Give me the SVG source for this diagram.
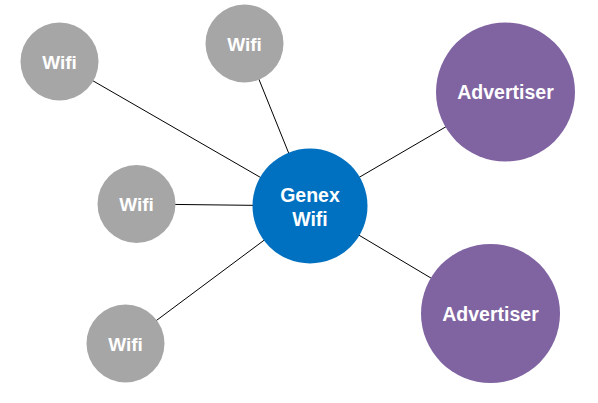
<svg xmlns="http://www.w3.org/2000/svg" width="598" height="403" viewBox="0 0 598 403">
<style>
.wifi{fill:#a6a6a6}
.adv{fill:#8064a2}
.hub{fill:#0070c0}
text{font-family:"Liberation Sans",Arial,sans-serif;font-weight:bold;fill:#fff;text-anchor:middle}
.c line{stroke:#000;stroke-width:1}
</style>
<rect width="598" height="403" fill="#fff"/>
<g class="c" id="connectors">
<line x1="59.5" y1="61.5" x2="310" y2="206"/>
<line x1="244.5" y1="43.5" x2="310" y2="206"/>
<line x1="136.5" y1="204" x2="310" y2="206"/>
<line x1="125.5" y1="343.5" x2="310" y2="206"/>
<line x1="505.5" y1="92" x2="310" y2="206"/>
<line x1="490.5" y1="313.5" x2="310" y2="206"/>
</g>
<g id="wifi1"><circle class="wifi" cx="59.5" cy="61.5" r="39"/><text x="59.5" y="68.5" font-size="19">Wifi</text></g>
<g id="wifi2"><circle class="wifi" cx="244.5" cy="43.5" r="39"/><text x="244.5" y="50.5" font-size="19">Wifi</text></g>
<g id="wifi3"><circle class="wifi" cx="136.5" cy="204" r="39"/><text x="136.5" y="211" font-size="19">Wifi</text></g>
<g id="wifi4"><circle class="wifi" cx="125.5" cy="343.5" r="39"/><text x="125.5" y="350.5" font-size="19">Wifi</text></g>
<g id="genex"><circle class="hub" cx="310" cy="206" r="57.5"/><text x="310" y="202" font-size="19.5">Genex</text><text x="310" y="226" font-size="19.5">Wifi</text></g>
<g id="adv1"><circle class="adv" cx="505.5" cy="92" r="69.5"/><text x="505.5" y="99" font-size="19.5">Advertiser</text></g>
<g id="adv2"><circle class="adv" cx="490.5" cy="313.5" r="69.5"/><text x="490.5" y="320.5" font-size="19.5">Advertiser</text></g>
</svg>
